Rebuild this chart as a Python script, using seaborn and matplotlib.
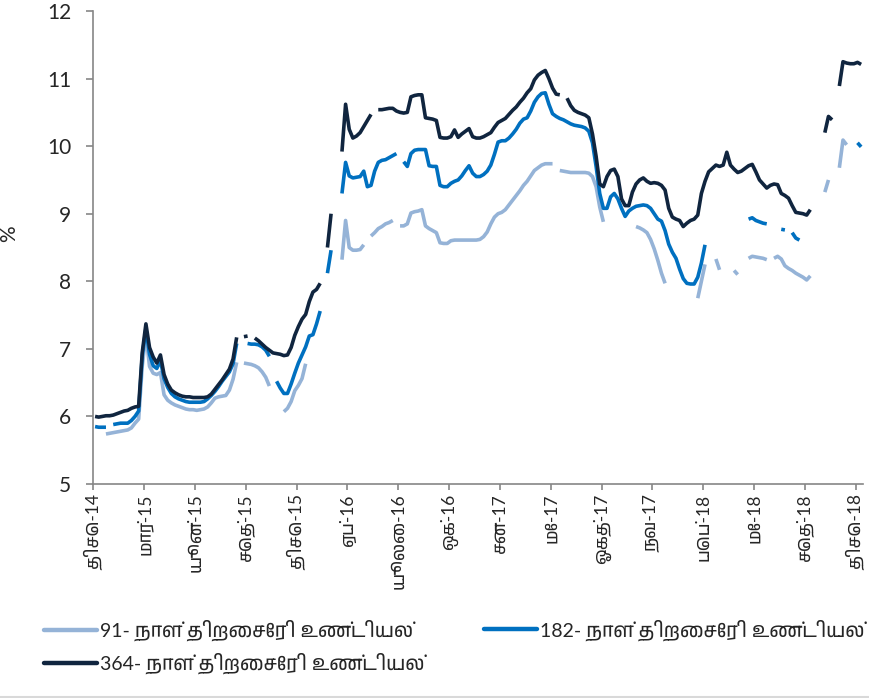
import numpy as np
import pandas as pd
import matplotlib
matplotlib.use('Agg')
import matplotlib.pyplot as plt
import matplotlib.font_manager as fm
from matplotlib.lines import Line2D
import seaborn as sns

sns.set_style('white')
# look for any font that can draw Tamil, fall back to DejaVu otherwise
tamil_fonts = sorted({f.name for f in fm.fontManager.ttflist
                      if 'Tamil' in f.name or 'Lohit' in f.name or 'Latha' in f.name})
plt.rcParams['font.family'] = ['Lato'] + tamil_fonts + ['DejaVu Sans']

nan = np.nan

# weekly treasury bill yields (%), one value per week, nan = no auction / gap
yield_91 = [
    nan, nan, nan, 5.74, 5.75, 5.76, 5.77, 5.78, 5.79, 5.80,
    5.83, 5.90, 5.96, 6.75, 7.22, 6.74, 6.64, 6.62, 6.65, 6.32,
    6.24, 6.20, 6.17, 6.15, 6.13, 6.11, 6.10, 6.10, 6.09, 6.10,
    6.11, 6.14, 6.20, 6.27, 6.29, 6.30, 6.31, 6.39, 6.55, 6.80,
    nan, 6.79, 6.78, 6.77, 6.75, 6.72, 6.66, 6.58, 6.45, nan,
    nan, nan, 6.07, 6.12, 6.22, 6.38, 6.46, 6.56, 6.78, nan,
    nan, nan, nan, nan, nan, nan, nan, nan, 8.32, 8.90,
    8.50, 8.46, 8.46, 8.47, 8.54, nan, 8.67, 8.72, 8.78, 8.81,
    8.85, 8.87, 8.90, nan, 8.82, 8.82, 8.85, 9.01, 9.03, 9.04,
    9.06, 8.82, 8.78, 8.75, 8.72, 8.57, 8.56, 8.56, 8.60, 8.61,
    8.61, 8.61, 8.61, 8.61, 8.61, 8.61, 8.62, 8.66, 8.73, 8.85,
    8.95, 9.00, 9.02, 9.06, 9.13, 9.20, 9.27, 9.34, 9.42, 9.48,
    9.56, 9.64, 9.68, 9.72, 9.74, 9.74, 9.74, nan, 9.64, 9.63,
    9.62, 9.61, 9.61, 9.61, 9.61, 9.61, 9.60, 9.55, 9.40, 9.10,
    8.88, nan, nan, nan, nan, nan, nan, nan, nan, 8.81,
    8.79, 8.76, 8.72, 8.62, 8.48, 8.31, 8.12, 7.97, nan, nan,
    nan, nan, nan, nan, nan, nan, 7.75, 8.00, 8.25, nan,
    nan, 8.33, 8.17, nan, nan, nan, 8.16, 8.10, nan, nan,
    8.34, 8.37, 8.36, 8.35, 8.34, 8.32, nan, 8.34, 8.37, 8.33,
    8.23, 8.19, 8.16, 8.12, 8.09, 8.06, 8.02, 8.08, nan, nan,
    nan, 9.32, 9.50, nan, nan, 9.68, 10.09, 10.02, nan, nan,
    nan, nan,
]

yield_182 = [
    5.85, 5.84, 5.84, 5.84, nan, 5.88, 5.89, 5.90, 5.90, 5.90,
    5.94, 6.00, 6.08, 6.90, 7.30, 6.92, 6.75, 6.71, 6.83, 6.56,
    6.43, 6.34, 6.29, 6.26, 6.24, 6.22, 6.21, 6.21, 6.21, 6.21,
    6.22, 6.26, 6.31, 6.37, 6.44, 6.52, 6.59, 6.66, 6.78, 7.08,
    nan, nan, 7.08, 7.07, 7.07, 7.06, 7.03, 6.98, 6.89, nan,
    6.52, 6.42, 6.34, 6.34, 6.48, 6.64, 6.79, 6.91, 7.03, 7.19,
    7.21, 7.37, 7.56, nan, 8.12, 8.46, nan, nan, 9.30, 9.76,
    9.56, 9.53, 9.54, 9.55, 9.63, 9.40, 9.42, 9.63, 9.76, 9.79,
    9.80, 9.83, 9.86, 9.89, nan, 9.77, 9.70, 9.89, 9.94, 9.95,
    9.95, 9.95, 9.71, 9.70, 9.70, 9.42, 9.40, 9.40, 9.45, 9.48,
    9.50, 9.56, 9.64, 9.71, 9.60, 9.55, 9.55, 9.58, 9.63, 9.72,
    9.88, 10.06, 10.08, 10.08, 10.12, 10.18, 10.25, 10.34, 10.40, 10.42,
    10.52, 10.65, 10.73, 10.78, 10.79, 10.62, 10.48, 10.44, 10.41, 10.39,
    10.36, 10.33, 10.31, 10.30, 10.29, 10.27, 10.22, 10.05, 9.70, 9.30,
    9.08, 9.08, 9.25, 9.30, 9.22, 9.08, 8.96, 9.04, 9.08, 9.11,
    9.12, 9.13, 9.12, 9.08, 9.00, 8.92, 8.89, 8.75, 8.55, 8.43,
    8.34, 8.18, 8.04, 7.97, 7.96, 7.96, 8.06, 8.27, 8.54, nan,
    nan, nan, nan, nan, nan, nan, nan, nan, nan, nan,
    8.92, 8.94, 8.90, 8.88, 8.86, 8.85, nan, nan, nan, 8.77,
    8.76, nan, 8.72, 8.64, 8.61, nan, nan, nan, nan, nan,
    nan, nan, nan, nan, nan, nan, nan, nan, nan, nan,
    10.05, 9.99,
]

yield_364 = [
    6.00, 5.99, 6.00, 6.01, 6.01, 6.02, 6.04, 6.06, 6.08, 6.09,
    6.12, 6.14, 6.15, 6.95, 7.37, 7.02, 6.88, 6.79, 6.91, 6.62,
    6.48, 6.39, 6.35, 6.32, 6.30, 6.29, 6.29, 6.28, 6.28, 6.28,
    6.28, 6.29, 6.33, 6.40, 6.47, 6.54, 6.62, 6.70, 6.85, 7.17,
    nan, 7.18, 7.19, nan, 7.16, 7.12, 7.07, 7.02, 6.98, 6.94,
    6.93, 6.92, 6.90, 6.91, 7.02, 7.20, 7.33, 7.44, 7.51, 7.70,
    7.84, 7.88, 7.97, nan, 8.50, 9.00, nan, nan, 9.92, 10.62,
    10.25, 10.12, 10.15, 10.20, 10.29, 10.38, 10.47, nan, 10.54, 10.54,
    10.55, 10.56, 10.56, 10.52, 10.50, 10.49, 10.50, 10.73, 10.75, 10.76,
    10.76, 10.42, 10.41, 10.40, 10.38, 10.13, 10.12, 10.12, 10.14, 10.24,
    10.13, 10.18, 10.22, 10.26, 10.14, 10.12, 10.12, 10.14, 10.17, 10.20,
    10.28, 10.35, 10.38, 10.41, 10.47, 10.53, 10.58, 10.65, 10.71, 10.79,
    10.85, 10.98, 11.05, 11.09, 11.12, 11.00, 10.86, 10.77, 10.76, nan,
    10.71, 10.60, 10.53, 10.50, 10.48, 10.46, 10.42, 10.18, 9.85, 9.44,
    9.40, 9.55, 9.64, 9.66, 9.55, 9.22, 9.12, 9.12, 9.32, 9.44,
    9.50, 9.53, 9.48, 9.45, 9.46, 9.45, 9.42, 9.35, 9.08, 8.95,
    8.92, 8.90, 8.81, 8.86, 8.90, 8.92, 8.98, 9.30, 9.48, 9.62,
    9.67, 9.72, 9.70, 9.72, 9.91, 9.72, 9.66, 9.61, 9.63, 9.67,
    9.71, 9.73, 9.62, 9.50, 9.44, 9.38, 9.42, 9.44, 9.43, 9.30,
    9.27, 9.23, 9.12, 9.02, 9.01, 9.00, 8.98, 9.06, nan, nan,
    nan, 10.20, 10.44, 10.39, nan, 10.89, 11.25, 11.23, 11.22, 11.22,
    11.24, 11.21,
]

# tick labels, one every 14 weeks
tick_labels = ['திசெ-14', 'மார்-15', 'யூன்-15', 'செத்-15', 'திசெ-15', 'ஏப்-16',
               'யூலை-16', 'ஒக்-16', 'சன-17', 'மே-17', 'ஓகத்-17', 'நவ-17',
               'பெப்-18', 'மே-18', 'செத்-18', 'திசெ-18']

series_names = ['91- நாள் திறைசேரி உண்டியல்',
                '182- நாள் திறைசேரி உண்டியல்',
                '364- நாள் திறைசேரி உண்டியல்']
colors = ['#95B3D7', '#0070C0', '#10253F']

# long table; every unbroken run of weeks gets its own unit so gaps stay gaps
weeks = np.arange(len(yield_364))
frames = []
for name, vals in zip(series_names, [yield_91, yield_182, yield_364]):
    s = pd.Series(vals, dtype=float)
    frames.append(pd.DataFrame({'week': weeks, 'rate': s, 'series': name,
                                'seg': s.isna().cumsum()}))
df = pd.concat(frames, ignore_index=True).dropna(subset=['rate'])
df['unit'] = df['series'] + '_' + df['seg'].astype(str)

fig = plt.figure(figsize=(8.7, 6.98), dpi=100)
ax = fig.add_axes([0.1072, 0.3066, 0.8847, 0.6776])

sns.lineplot(data=df, x='week', y='rate', hue='series', units='unit',
             estimator=None, hue_order=series_names,
             palette=dict(zip(series_names, colors)), legend=False,
             lw=2.6, solid_capstyle='butt', ax=ax)

ax.set_xlim(-0.5, len(weeks) - 0.5)
ax.set_ylim(5, 12)
ax.set_yticks(range(5, 13))
ax.set_xticks(np.arange(len(tick_labels)) * 14 - 0.5)
ax.set_xticklabels(tick_labels, rotation=90, fontsize=12.5)
ax.tick_params(axis='y', labelsize=15, length=5, width=1.2, color='#868686',
               direction='out', pad=11, left=True)
ax.tick_params(axis='x', length=4, width=1.2, color='#868686',
               direction='out', pad=3, bottom=True)
ax.set_xlabel('')
ax.set_ylabel('%', fontsize=15)
ax.yaxis.set_label_coords(-0.096, 0.53)
sns.despine(ax=ax)
for side in ['left', 'bottom']:
    ax.spines[side].set_color('#868686')
    ax.spines[side].set_linewidth(1.2)
ax.grid(False)

# legend: first column 91 & 364, second column 182
h = [Line2D([], [], color=c, lw=3.2) for c in colors]
leg1 = fig.legend([h[0], h[2]], [series_names[0], series_names[2]],
                  loc='center left', bbox_to_anchor=(27 / 870, 1 - 647 / 698),
                  frameon=False, fontsize=14, handlelength=2.7,
                  handletextpad=0.15, labelspacing=0.6)
leg2 = fig.legend([h[1]], [series_names[1]],
                  loc='center left', bbox_to_anchor=(467 / 870, 1 - 630 / 698),
                  frameon=False, fontsize=14, handlelength=2.7,
                  handletextpad=0.15)

fig.add_artist(Line2D([0, 1], [0.002, 0.002], color='#d9d9d9', lw=1.5,
                      transform=fig.transFigure))

fig.savefig('out.png', dpi=100)
